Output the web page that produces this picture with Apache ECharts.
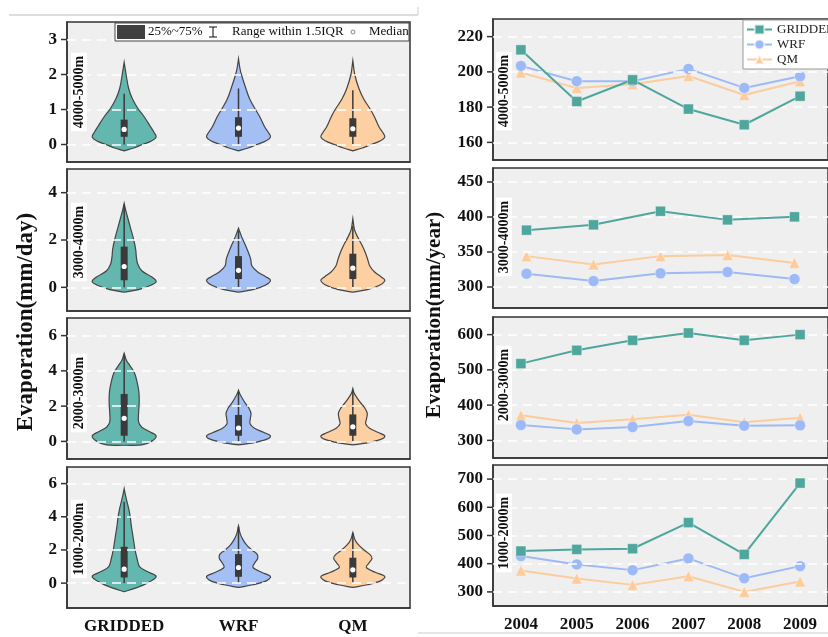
<!DOCTYPE html>
<html>
<head>
<meta charset="utf-8">
<script src="https://cdn.jsdelivr.net/npm/echarts@6/dist/echarts.min.js"></script>
<style>
  html, body { margin: 0; padding: 0; background: #fff; }
  #chart { width: 828px; height: 637px; }
</style>
</head>
<body>
<div id="chart"></div>
<script>
var FONT = 'Liberation Serif, Times New Roman, serif';

// categories
var models = ['GRIDDED', 'WRF', 'QM'];
var years = ['2004', '2005', '2006', '2007', '2008', '2009'];
var years5 = ['2004', '2005', '2006', '2007', '2008'];
var bands = ['4000-5000m', '3000-4000m', '2000-3000m', '1000-2000m'];

// tick labels
var ticksDay = [[0, 1, 2, 3], [0, 2, 4], [0, 2, 4, 6], [0, 2, 4, 6]];
var ticksYear = [[160, 180, 200, 220], [300, 350, 400, 450], [300, 400, 500, 600], [300, 400, 500, 600, 700]];

// daily evaporation boxes: [q1, median, q3, whisker low, whisker high] for GRIDDED, WRF, QM
var box4000 = [[0.22, 0.43, 0.71, 0, 1.45], [0.22, 0.47, 0.78, 0, 1.6], [0.22, 0.45, 0.75, 0, 1.55]];
var box3000 = [[0.3, 0.88, 1.72, 0, 3.5], [0.35, 0.72, 1.32, 0, 2.4], [0.35, 0.81, 1.42, 0, 2.6]];
var box2000 = [[0.32, 1.31, 2.69, 0, 4.9], [0.32, 0.76, 1.5, 0, 2.8], [0.32, 0.83, 1.53, 0, 2.9]];
var box1000 = [[0.34, 0.84, 2.19, 0, 4.9], [0.38, 0.94, 1.75, 0, 3.4], [0.34, 0.8, 1.53, 0, 3.0]];

// violin outlines: [value, relative half width]
var shape4000 = [
  [[-0.18, 0], [-0.1, 0.3], [0, 0.57], [0.1, 0.85], [0.22, 1], [0.35, 0.93], [0.5, 0.83], [0.8, 0.62], [1.0, 0.45], [1.3, 0.26], [1.6, 0.14], [2.0, 0.06], [2.35, 0]],
  [[-0.18, 0], [-0.1, 0.3], [0, 0.57], [0.1, 0.85], [0.22, 1], [0.35, 0.93], [0.5, 0.82], [0.8, 0.66], [1.0, 0.53], [1.3, 0.35], [1.6, 0.23], [2.0, 0.09], [2.2, 0.04], [2.45, 0]],
  [[-0.18, 0], [-0.1, 0.3], [0, 0.57], [0.1, 0.85], [0.22, 1], [0.35, 0.93], [0.5, 0.82], [0.8, 0.67], [1.0, 0.55], [1.3, 0.34], [1.6, 0.19], [2.0, 0.06], [2.4, 0]]
];
var shape3000 = [
  [[-0.2, 0], [-0.1, 0.45], [0.1, 0.85], [0.25, 1], [0.45, 0.85], [0.7, 0.55], [1.0, 0.42], [1.3, 0.38], [1.6, 0.36], [2.0, 0.3], [2.5, 0.2], [3.0, 0.1], [3.3, 0.04], [3.55, 0]],
  [[-0.2, 0], [-0.1, 0.45], [0.1, 0.85], [0.3, 1], [0.45, 0.85], [0.65, 0.6], [0.9, 0.42], [1.2, 0.38], [1.5, 0.3], [1.8, 0.21], [2.1, 0.11], [2.35, 0.04], [2.5, 0]],
  [[-0.2, 0], [-0.1, 0.45], [0.1, 0.85], [0.3, 1], [0.45, 0.88], [0.65, 0.68], [0.9, 0.53], [1.2, 0.46], [1.5, 0.38], [1.8, 0.28], [2.1, 0.16], [2.4, 0.06], [2.6, 0.03], [2.9, 0]]
];
var shape2000 = [
  [[-0.22, 0], [-0.2, 0.55], [0, 0.85], [0.3, 1], [0.55, 0.8], [0.8, 0.55], [1.1, 0.45], [1.6, 0.45], [2.2, 0.47], [2.8, 0.46], [3.4, 0.4], [3.9, 0.32], [4.3, 0.18], [4.6, 0.07], [5.0, 0]],
  [[-0.2, 0], [-0.1, 0.4], [0.1, 0.85], [0.3, 1], [0.5, 0.8], [0.75, 0.5], [1.0, 0.36], [1.3, 0.37], [1.6, 0.39], [1.9, 0.32], [2.2, 0.2], [2.5, 0.1], [2.7, 0.04], [2.9, 0]],
  [[-0.2, 0], [-0.1, 0.4], [0.1, 0.85], [0.3, 1], [0.5, 0.8], [0.75, 0.52], [1.0, 0.4], [1.3, 0.43], [1.6, 0.45], [1.9, 0.37], [2.2, 0.24], [2.5, 0.12], [2.75, 0.04], [3.0, 0]]
];
var shape1000 = [
  [[-0.52, 0], [-0.3, 0.35], [0, 0.72], [0.4, 1], [0.7, 0.72], [1.0, 0.48], [1.5, 0.4], [2.0, 0.34], [2.5, 0.3], [3.0, 0.26], [3.5, 0.22], [4.0, 0.19], [4.5, 0.14], [4.9, 0.09], [5.3, 0.04], [5.7, 0]],
  [[-0.26, 0], [-0.1, 0.45], [0.15, 0.88], [0.4, 1], [0.65, 0.72], [0.95, 0.45], [1.2, 0.5], [1.5, 0.6], [1.75, 0.58], [2.0, 0.42], [2.3, 0.25], [2.65, 0.13], [3.0, 0.05], [3.45, 0]],
  [[-0.26, 0], [-0.1, 0.45], [0.15, 0.88], [0.4, 1], [0.65, 0.7], [0.95, 0.42], [1.2, 0.5], [1.5, 0.6], [1.75, 0.52], [2.0, 0.35], [2.3, 0.18], [2.6, 0.07], [3.05, 0]]
];

// annual evaporation (mm/year)
var gridded4000 = [212.5, 183.2, 195.5, 178.9, 170.0, 186.2];
var wrf4000 = [203.4, 194.7, 194.7, 201.7, 190.9, 197.5];
var qm4000 = [199.6, 190.8, 193.0, 197.7, 186.9, 194.7];
var gridded3000 = [381.2, 388.8, 408.2, 395.9, 400.2];
var wrf3000 = [319.0, 308.5, 319.5, 321.4, 311.4];
var qm3000 = [344.1, 332.3, 344.1, 345.6, 334.2];
var gridded2000 = [517.7, 555.5, 583.9, 604.7, 583.9, 600.0];
var wrf2000 = [343.5, 331.2, 337.9, 354.9, 341.6, 342.6];
var qm2000 = [371.0, 349.3, 359.7, 373.0, 351.2, 364.4];
var gridded1000 = [444.8, 450.7, 453.1, 545.7, 432.9, 685.8];
var wrf1000 = [427.0, 397.3, 377.2, 418.7, 348.7, 391.4];
var qm1000 = [376.0, 347.5, 324.9, 355.8, 300.0, 336.8];

var violinColors = ['#63b7ae', '#a3bff4', '#fcd0a2'];
var lineColors = ['#4ea69d', '#9dbaf6', '#fccc9c'];

var boxes = [box4000, box3000, box2000, box1000];
var shapes = [shape4000, shape3000, shape2000, shape1000];
var lines = [
  [gridded4000, wrf4000, qm4000],
  [gridded3000, wrf3000, qm3000],
  [gridded2000, wrf2000, qm2000],
  [gridded1000, wrf1000, qm1000]
];

var leftGrids = [[22, 140], [169, 142], [318, 141], [467, 141]];
var rightGrids = [[19, 141], [168, 140], [317, 141], [465, 141]];
var dayRange = [[-0.5, 3.5], [-1, 5], [-1, 7], [-1.5, 7]];
var yearRange = [[150, 230], [270, 470], [250, 650], [250, 750]];

var chart = echarts.init(document.getElementById('chart'));

function gridOf(left, right, g) {
  return {
    left: left, right: right, top: g[0], height: g[1], show: true,
    backgroundColor: '#efefef', borderColor: '#333', borderWidth: 1.5
  };
}

function xAx(gi, cats, showLabel) {
  return {
    type: 'category', gridIndex: gi, data: cats, boundaryGap: true,
    axisLine: { onZero: false, lineStyle: { color: '#333', width: 1.5 } },
    axisTick: { alignWithLabel: true, length: 5, lineStyle: { color: '#333', width: 1.2 } },
    axisLabel: { show: showLabel, margin: 10, fontFamily: FONT, fontWeight: 'bold', fontSize: 17, color: '#111' },
    splitLine: { show: false }
  };
}

function yAx(gi, range, ticks) {
  return {
    type: 'value', gridIndex: gi, min: range[0], max: range[1],
    axisLine: { show: true, onZero: false, lineStyle: { color: '#333', width: 1.5 } },
    axisTick: { show: false },
    axisLabel: { customValues: ticks, margin: 10, fontFamily: FONT, fontWeight: 'bold', fontSize: 17, color: '#111' },
    splitLine: { show: false }
  };
}

function gridLines(gi, ticks) {
  return {
    type: 'line', xAxisIndex: gi, yAxisIndex: gi, data: [], z: 1, silent: true,
    markLine: {
      silent: true, symbol: 'none', animation: false,
      label: { show: false },
      lineStyle: { color: '#fff', type: [9, 6], width: 1.6 },
      data: ticks.map(function (t) { return { yAxis: t }; })
    }
  };
}

function violinRender(shapeSet) {
  return function (params, api) {
    var i = params.dataIndex;
    var prof = shapeSet[i];
    var band = api.size([1, 0])[0];
    var half = band * 0.28;
    var cx = api.coord([i, 0])[0];
    var right = [], left = [];
    prof.forEach(function (p) {
      var y = api.coord([i, p[0]])[1];
      right.push([cx + p[1] * half, y]);
      left.unshift([cx - p[1] * half, y]);
    });
    var pts = right.concat(left);
    var q1 = api.coord([i, api.value(1)])[1];
    var med = api.coord([i, api.value(2)])[1];
    var q3 = api.coord([i, api.value(3)])[1];
    var lo = api.coord([i, api.value(4)])[1];
    var hi = api.coord([i, api.value(5)])[1];
    return {
      type: 'group',
      children: [
        { type: 'polygon', shape: { points: pts, smooth: 0.35 },
          style: { fill: violinColors[i], stroke: '#444', lineWidth: 1.2 } },
        { type: 'line', shape: { x1: cx, y1: lo, x2: cx, y2: hi },
          style: { stroke: '#3a3a3a', lineWidth: 1.5 } },
        { type: 'rect', shape: { x: cx - 3.5, y: q3, width: 7, height: q1 - q3 },
          style: { fill: '#3a3a3a' } },
        { type: 'circle', shape: { cx: cx, cy: med, r: 2.6 },
          style: { fill: '#fff' } }
      ]
    };
  };
}

var grids = [], xAxes = [], yAxes = [], series = [];
for (var p = 0; p < 4; p++) {
  grids.push(gridOf(67, 418, leftGrids[p]));
  xAxes.push(xAx(p, models, p === 3));
  yAxes.push(yAx(p, dayRange[p], ticksDay[p]));
}
for (var p = 0; p < 4; p++) {
  grids.push(gridOf(493, -7, rightGrids[p]));
  xAxes.push(xAx(p + 4, p === 1 ? years5 : years, p === 3));
  yAxes.push(yAx(p + 4, yearRange[p], ticksYear[p]));
}

var symbols = ['rect', 'circle', 'triangle'];
var symSizes = [10, 11, 11];
for (var p = 0; p < 4; p++) {
  series.push(gridLines(p, ticksDay[p]));
  series.push({
    type: 'custom', name: 'violin' + p, xAxisIndex: p, yAxisIndex: p, z: 3,
    renderItem: violinRender(shapes[p]),
    encode: { x: 0, y: [1, 2, 3, 4, 5] },
    data: boxes[p].map(function (b, i) { return [i].concat(b); })
  });
  series.push(gridLines(p + 4, ticksYear[p]));
  for (var m = 0; m < 3; m++) {
    series.push({
      type: 'line', name: models[m], xAxisIndex: p + 4, yAxisIndex: p + 4, z: 3 + (2 - m),
      data: lines[p][m],
      symbol: symbols[m], symbolSize: symSizes[m], showAllSymbol: true,
      lineStyle: { color: lineColors[m], width: 2 },
      itemStyle: { color: lineColors[m], borderColor: 'rgba(255,255,255,0.6)', borderWidth: 0.6 }
    });
  }
}

function bandLabel(x, y, text) {
  return {
    type: 'text', x: x, y: y, rotation: Math.PI / 2, z: 10,
    style: {
      text: text, font: 'bold 14px ' + FONT, fill: '#111',
      align: 'center', verticalAlign: 'middle',
      backgroundColor: '#fff', padding: [1, 3]
    }
  };
}

var graphics = [
  // thin frame edges from the composed figure
  { type: 'line', shape: { x1: 9, y1: 15, x2: 418, y2: 15 }, style: { stroke: '#bbb', lineWidth: 1 } },
  { type: 'line', shape: { x1: 418, y1: 7, x2: 418, y2: 15 }, style: { stroke: '#ccc', lineWidth: 1 } },
  { type: 'line', shape: { x1: 418, y1: 633, x2: 828, y2: 633 }, style: { stroke: '#ccc', lineWidth: 1 } },
  // axis names
  { type: 'text', x: 26, y: 322, rotation: Math.PI / 2,
    style: { text: 'Evaporation(mm/day)', font: 'bold 23px ' + FONT, fill: '#111', align: 'center', verticalAlign: 'middle' } },
  { type: 'text', x: 435, y: 315, rotation: Math.PI / 2,
    style: { text: 'Evaporation(mm/year)', font: 'bold 21px ' + FONT, fill: '#111', align: 'center', verticalAlign: 'middle' } },
  // violin legend
  { type: 'rect', z: 10, shape: { x: 115, y: 23, width: 294, height: 18 }, style: { fill: '#fff', stroke: '#444', lineWidth: 1 } },
  { type: 'rect', z: 11, shape: { x: 117, y: 25, width: 28, height: 14 }, style: { fill: '#404040' } },
  { type: 'text', z: 11, x: 148, y: 32, style: { text: '25%~75%', font: '13px ' + FONT, fill: '#111', verticalAlign: 'middle' } },
  { type: 'line', z: 11, shape: { x1: 213, y1: 27, x2: 213, y2: 37 }, style: { stroke: '#333', lineWidth: 1.2 } },
  { type: 'line', z: 11, shape: { x1: 209, y1: 27, x2: 217, y2: 27 }, style: { stroke: '#333', lineWidth: 1.2 } },
  { type: 'line', z: 11, shape: { x1: 209, y1: 37, x2: 217, y2: 37 }, style: { stroke: '#333', lineWidth: 1.2 } },
  { type: 'text', z: 11, x: 232, y: 32, style: { text: 'Range within 1.5IQR', font: '13px ' + FONT, fill: '#111', verticalAlign: 'middle' } },
  { type: 'circle', z: 11, shape: { cx: 353, cy: 32, r: 2 }, style: { fill: '#fff', stroke: '#888', lineWidth: 1 } },
  { type: 'text', z: 11, x: 369, y: 32, style: { text: 'Median', font: '13px ' + FONT, fill: '#111', verticalAlign: 'middle' } },
  // elevation band labels
  bandLabel(79, 92, bands[0]),
  bandLabel(79, 242, bands[1]),
  bandLabel(79, 393, bands[2]),
  bandLabel(79, 539, bands[3]),
  bandLabel(504, 91, bands[0]),
  bandLabel(504, 237, bands[1]),
  bandLabel(504, 385, bands[2]),
  bandLabel(504, 533, bands[3])
];

chart.setOption({
  animation: false,
  backgroundColor: '#fff',
  grid: grids,
  xAxis: xAxes,
  yAxis: yAxes,
  legend: {
    data: models, orient: 'vertical', left: 743, top: 20,
    backgroundColor: '#fff', borderColor: '#999', borderWidth: 1,
    padding: [3, 6, 3, 3], itemGap: 2, itemWidth: 25, itemHeight: 12,
    textStyle: { fontFamily: FONT, fontSize: 13, color: '#222' }
  },
  series: series
});

// y-axis ticks placed through each axis scale
var tickMarks = [];
function addTicks(axisIndex, ticks, x0) {
  ticks.forEach(function (t) {
    var y = chart.convertToPixel({ yAxisIndex: axisIndex }, t);
    tickMarks.push({ type: 'line', z: 5, shape: { x1: x0 - 6, y1: y, x2: x0, y2: y },
      style: { stroke: '#333', lineWidth: 1.5 } });
  });
}
for (var p = 0; p < 4; p++) {
  addTicks(p, ticksDay[p], 67);
  addTicks(p + 4, ticksYear[p], 493);
}

chart.setOption({ graphic: graphics.concat(tickMarks) });
</script>
</body>
</html>
